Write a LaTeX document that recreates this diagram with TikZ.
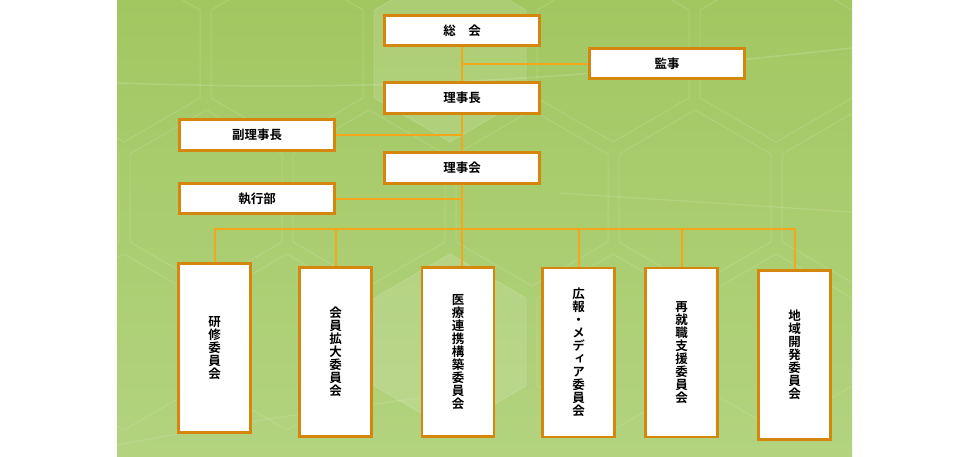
\documentclass[tikz,border=0pt]{standalone}
\usepackage{fontspec}
\newfontfamily\jpb{Noto Sans CJK JP Bold}
\newfontfamily\jpbv{Noto Sans CJK JP Bold}[RawFeature=+vert]
\definecolor{bordc}{HTML}{D4860E}
\definecolor{linec}{HTML}{F4A71A}
\definecolor{gtop}{HTML}{A2C761}
\definecolor{gbot}{HTML}{B3D37F}
\newcommand\myhex[2]{(#1,#2-88) -- (#1-76,#2-44) -- (#1-76,#2+44) -- (#1,#2+88) -- (#1+76,#2+44) -- (#1+76,#2-44) -- cycle}
\pgfdeclarelayer{bg}
\pgfdeclarelayer{conns}
\pgfsetlayers{bg,conns,main}
\begin{document}
\begin{tikzpicture}[x=1pt,y=-1pt,
  hbox/.style={draw=bordc, line width=2.8pt, fill=white, minimum width=155pt, minimum height=30.5pt, inner sep=0pt, font=\jpb\fontsize{12.5}{14}\selectfont},
  vbox/.style={draw=bordc, line width=2.8pt, fill=white, minimum width=72pt, minimum height=169pt, inner sep=0pt, align=center, font=\jpbv\fontsize{12.5}{13}\selectfont},
  conn/.style={draw=linec, line width=2pt},
  hexline/.style={draw=white, draw opacity=0.12, line width=1pt},
  hexfill/.style={fill=white, fill opacity=0.12}]
\useasboundingbox (0,0) rectangle (960,456);
\begin{pgfonlayer}{bg}
\shade[top color=gtop, bottom color=gbot] (117,0) rectangle (852,456);
\begin{scope}
\clip (117,0) rectangle (852,456);
\fill[hexfill] \myhex{450}{54};
\fill[hexfill] \myhex{450}{342};
\foreach \cx in {124,287,450,613,776} {
  \draw[hexline] \myhex{\cx}{54};
  \draw[hexline] \myhex{\cx}{342};
}
\foreach \cx in {43,206,369,532,695,858} {
  \draw[hexline] \myhex{\cx}{198};
}
\draw[white, opacity=0.15, line width=1.5pt] (117,83) .. controls (380,92) and (560,80) .. (852,48);
\draw[white, opacity=0.13, line width=1.2pt] (560,193) -- (852,212);
\draw[white, opacity=0.12, line width=1.2pt] (117,445) .. controls (250,420) and (330,410) .. (420,398);
\end{scope}
\end{pgfonlayer}

\node[hbox] (sokai) at (462,30.5) {総　会};
\node[hbox] (kanji) at (667,63.5) {監事};
\node[hbox] (rijicho) at (462,98) {理事長};
\node[hbox] (fuku) at (257,135) {副理事長};
\node[hbox] (rijikai) at (462,168) {理事会};
\node[hbox] (shikko) at (257,198.5) {執行部};

\node[vbox] (kenshu) at (214.5,348) {研\\修\\委\\員\\会};
\node[vbox] (kaiin) at (335.5,352) {会\\員\\拡\\大\\委\\員\\会};
\node[vbox] (iryo) at (458,352) {医\\療\\連\\携\\構\\築\\委\\員\\会};
\node[vbox] (koho) at (578.5,352.5) {広\\報\\・\\メ\\デ\\ィ\\ア\\委\\員\\会};
\node[vbox] (saishu) at (681.5,352.5) {再\\就\\職\\支\\援\\委\\員\\会};
\node[vbox] (chiiki) at (794.5,355) {地\\域\\開\\発\\委\\員\\会};

\coordinate (bus) at (462,229);
\begin{pgfonlayer}{conns}
\draw[conn] (sokai.south) -- (sokai.south |- iryo.north);
\draw[conn] (kanji.west) -- (kanji.west -| sokai.south);
\draw[conn] (fuku.east) -- (fuku.east -| rijicho.south);
\draw[conn] (shikko.east) -- (shikko.east -| rijikai.south);
\draw[conn] (kenshu.north) -- (kenshu.north |- bus) -- (chiiki.north |- bus) -- (chiiki.north);
\draw[conn] (kaiin.north) -- (kaiin.north |- bus);
\draw[conn] (koho.north) -- (koho.north |- bus);
\draw[conn] (saishu.north) -- (saishu.north |- bus);
\end{pgfonlayer}
\end{tikzpicture}
\end{document}
